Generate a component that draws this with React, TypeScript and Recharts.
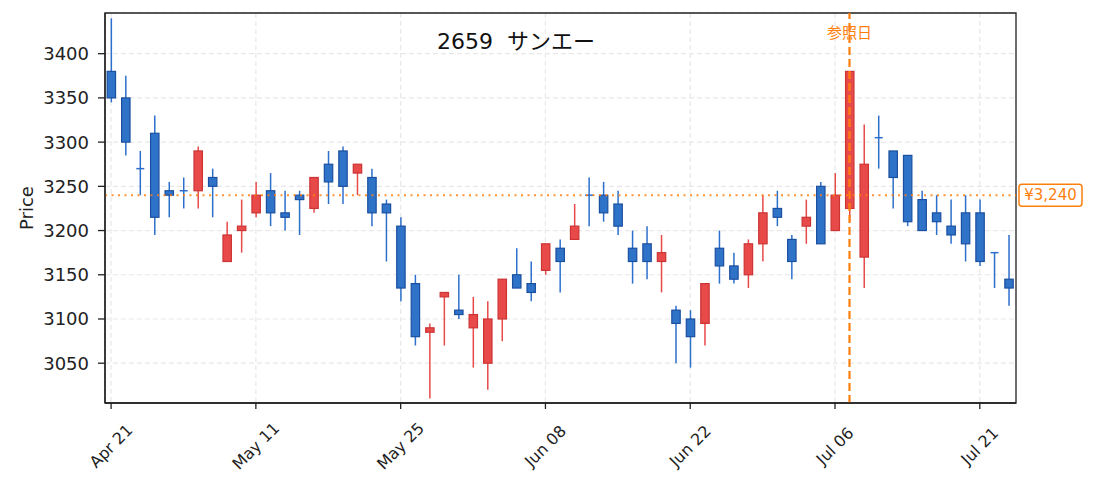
import React from 'react';
import {
  ComposedChart,
  Bar,
  XAxis,
  YAxis,
  CartesianGrid,
  ReferenceLine,
  ReferenceArea,
  Customized,
} from 'recharts';

// trading days, Apr 21 .. Jul 23
const dates = [
  'Apr 21', 'Apr 22', 'Apr 23', 'Apr 24', 'Apr 27', 'Apr 28', 'Apr 30', 'May 01', 'May 07', 'May 08',
  'May 11', 'May 12', 'May 13', 'May 14', 'May 15', 'May 18', 'May 19', 'May 20', 'May 21', 'May 22',
  'May 25', 'May 26', 'May 27', 'May 28', 'May 29', 'Jun 01', 'Jun 02', 'Jun 03', 'Jun 04', 'Jun 05',
  'Jun 08', 'Jun 09', 'Jun 10', 'Jun 11', 'Jun 12', 'Jun 15', 'Jun 16', 'Jun 17', 'Jun 18', 'Jun 19',
  'Jun 22', 'Jun 23', 'Jun 24', 'Jun 25', 'Jun 26', 'Jun 29', 'Jun 30', 'Jul 01', 'Jul 02', 'Jul 03',
  'Jul 06', 'Jul 07', 'Jul 08', 'Jul 09', 'Jul 10', 'Jul 13', 'Jul 14', 'Jul 15', 'Jul 16', 'Jul 17',
  'Jul 21', 'Jul 22', 'Jul 23',
];

const opens = [
  3380, 3350, 3270, 3310, 3245, 3245, 3245, 3260, 3165, 3200,
  3220, 3245, 3220, 3240, 3225, 3275, 3290, 3265, 3260, 3230,
  3205, 3140, 3085, 3125, 3110, 3090, 3050, 3100, 3150, 3140,
  3155, 3180, 3190, 3240, 3240, 3230, 3180, 3185, 3165, 3110,
  3100, 3095, 3180, 3160, 3150, 3185, 3225, 3190, 3205, 3250,
  3200, 3225, 3170, 3305, 3290, 3285, 3235, 3220, 3205, 3220,
  3220, 3175, 3145,
];

const highs = [
  3440, 3375, 3290, 3330, 3255, 3260, 3295, 3270, 3210, 3235,
  3255, 3265, 3245, 3245, 3260, 3290, 3295, 3275, 3270, 3235,
  3215, 3150, 3095, 3130, 3150, 3125, 3120, 3145, 3180, 3165,
  3185, 3190, 3230, 3260, 3255, 3245, 3200, 3205, 3195, 3115,
  3110, 3140, 3200, 3175, 3190, 3240, 3245, 3195, 3235, 3255,
  3265, 3380, 3320, 3330, 3290, 3285, 3245, 3240, 3235, 3240,
  3235, 3175, 3195,
];

const lows = [
  3345, 3285, 3240, 3195, 3215, 3225, 3225, 3215, 3165, 3175,
  3215, 3205, 3200, 3195, 3220, 3230, 3230, 3240, 3205, 3165,
  3120, 3070, 3010, 3070, 3100, 3045, 3020, 3075, 3135, 3120,
  3150, 3130, 3190, 3205, 3210, 3195, 3140, 3145, 3130, 3050,
  3045, 3070, 3140, 3140, 3135, 3165, 3205, 3145, 3185, 3185,
  3200, 3210, 3135, 3270, 3225, 3205, 3200, 3195, 3185, 3165,
  3160, 3135, 3115,
];

const closes = [
  3350, 3300, 3270, 3215, 3240, 3245, 3290, 3250, 3195, 3205,
  3240, 3220, 3215, 3235, 3260, 3255, 3250, 3275, 3220, 3220,
  3135, 3080, 3090, 3130, 3105, 3105, 3100, 3145, 3135, 3130,
  3185, 3165, 3205, 3240, 3220, 3205, 3165, 3165, 3175, 3095,
  3080, 3140, 3160, 3145, 3185, 3220, 3215, 3165, 3215, 3185,
  3240, 3380, 3275, 3305, 3260, 3210, 3200, 3210, 3195, 3185,
  3165, 3175, 3135,
];

const xTicks = [0, 10, 20, 30, 40, 50, 60];
const yTicks = [3050, 3100, 3150, 3200, 3250, 3300, 3350, 3400];

const title = '2659  サンエー';
const refIndex = 51;
const refLabel = '参照日';
const refPrice = 3240;

const X_MIN = -0.42;
const X_MAX = 62.5;
const Y_MIN = 3005;
const Y_MAX = 3446;

const FONT = '"DejaVu Sans", "Noto Sans CJK JP", sans-serif';
const ORANGE = '#ff7f0e';
const UP_FILL = '#e84a4a';
const UP_EDGE = '#cc3333';
const DOWN_FILL = '#2f73c9';
const DOWN_EDGE = '#1b4f9f';

const rows = dates.map((d, i) => ({
  idx: i,
  date: d,
  open: opens[i],
  high: highs[i],
  low: lows[i],
  close: closes[i],
  range: [lows[i], highs[i]],
}));

const Candle = (props: any) => {
  const { x, y, width, height, payload } = props;
  if (!payload) return null;
  const { open, close, high, low } = payload;
  const top = Math.min(y, y + height);
  const h = Math.abs(height);
  const cx = x + width / 2;
  const py = (v: number) => (high === low ? top : top + ((high - v) / (high - low)) * h);
  const up = close > open;
  const wick = up ? UP_FILL : '#2c70cc';
  const bodyTop = py(Math.max(open, close));
  const bodyBot = py(Math.min(open, close));
  const bw = 8.4;
  return (
    <g>
      <line x1={cx} x2={cx} y1={top} y2={top + h} stroke={wick} strokeWidth={1.5} />
      {open === close ? (
        <line x1={cx - 4} x2={cx + 4} y1={bodyTop} y2={bodyTop} stroke={wick} strokeWidth={1.5} />
      ) : (
        <rect
          x={cx - bw / 2}
          y={bodyTop}
          width={bw}
          height={Math.max(bodyBot - bodyTop, 1)}
          fill={up ? UP_FILL : DOWN_FILL}
          stroke={up ? UP_EDGE : DOWN_EDGE}
          strokeWidth={1.2}
        />
      )}
    </g>
  );
};

const XTick = (props: any) => {
  const { x, y, payload } = props;
  const cy = y + 35;
  return (
    <text
      x={x}
      y={cy}
      textAnchor="middle"
      dominantBaseline="central"
      transform={`rotate(-45 ${x} ${cy})`}
      fontSize={16}
      fontFamily={FONT}
      fill="#222"
    >
      {dates[payload.value]}
    </text>
  );
};

const PriceTag = (props: any) => {
  const vb = props.viewBox;
  if (!vb) return null;
  const bx = vb.x + vb.width + 3;
  return (
    <g>
      <rect x={bx} y={vb.y - 11} width={63} height={22} rx={3} fill="#fff" stroke={ORANGE} strokeWidth={1.5} />
      <text
        x={bx + 31.5}
        y={vb.y}
        textAnchor="middle"
        dominantBaseline="central"
        fontSize={15}
        fontFamily={FONT}
        fill={ORANGE}
      >
        {'¥' + refPrice.toLocaleString('en-US')}
      </text>
    </g>
  );
};

const RefTag = (props: any) => {
  const vb = props.viewBox;
  if (!vb) return null;
  return (
    <text
      x={vb.x}
      y={vb.y + 20}
      textAnchor="middle"
      dominantBaseline="central"
      fontSize={15}
      fontFamily={FONT}
      fill={ORANGE}
    >
      {refLabel}
    </text>
  );
};

const PriceLabel = (props: any) => {
  const vb = props.viewBox;
  const cy = vb ? vb.y + vb.height / 2 : 208;
  return (
    <text
      x={26}
      y={cy}
      textAnchor="middle"
      dominantBaseline="central"
      transform={`rotate(-90 26 ${cy})`}
      fontSize={18}
      fontFamily={FONT}
      fill="#222"
    >
      Price
    </text>
  );
};

const Title = () => (
  <text
    x={516}
    y={41}
    textAnchor="middle"
    dominantBaseline="central"
    fontSize={22}
    fontFamily={FONT}
    fill="#111"
    xmlSpace="preserve"
    style={{ whiteSpace: 'pre' }}
  >
    {title}
  </text>
);

export default function App() {
  return (
    <div style={{ position: 'absolute', left: 0, top: 0, background: '#fff' }}>
      <ComposedChart
        width={1095}
        height={492}
        data={rows}
        margin={{ top: 13, right: 79, bottom: 0, left: 45 }}
      >
        <CartesianGrid stroke="#e8e8e8" strokeDasharray="5 3" strokeWidth={1.2} />
        <XAxis
          dataKey="idx"
          type="number"
          domain={[X_MIN, X_MAX]}
          ticks={xTicks}
          interval={0}
          allowDataOverflow
          height={89}
          tickSize={6}
          tickMargin={2}
          stroke="#222"
          strokeWidth={1.3}
          tick={<XTick />}
        />
        <YAxis
          type="number"
          domain={[Y_MIN, Y_MAX]}
          ticks={yTicks}
          interval={0}
          allowDataOverflow
          width={60}
          tickSize={7}
          tickMargin={9}
          stroke="#222"
          strokeWidth={1.3}
          tick={{ fontSize: 18, fill: '#222', fontFamily: FONT }}
          label={{ content: (p: any) => <PriceLabel {...p} /> }}
        />
        <Bar dataKey="range" barSize={9} shape={<Candle />} isAnimationActive={false} />
        <ReferenceLine
          y={refPrice}
          stroke={ORANGE}
          strokeOpacity={0.85}
          strokeWidth={2}
          strokeDasharray="2 4.5"
          label={(p: any) => <PriceTag {...p} />}
        />
        <ReferenceLine
          x={refIndex}
          stroke={ORANGE}
          strokeWidth={2.2}
          strokeDasharray="8 4"
          label={(p: any) => <RefTag {...p} />}
        />
        <ReferenceArea
          x1={X_MIN}
          x2={X_MAX}
          y1={Y_MIN}
          y2={Y_MAX}
          fill="none"
          fillOpacity={0}
          stroke="#222"
          strokeWidth={1.3}
          ifOverflow="visible"
        />
        <Customized component={<Title />} />
      </ComposedChart>
    </div>
  );
}
